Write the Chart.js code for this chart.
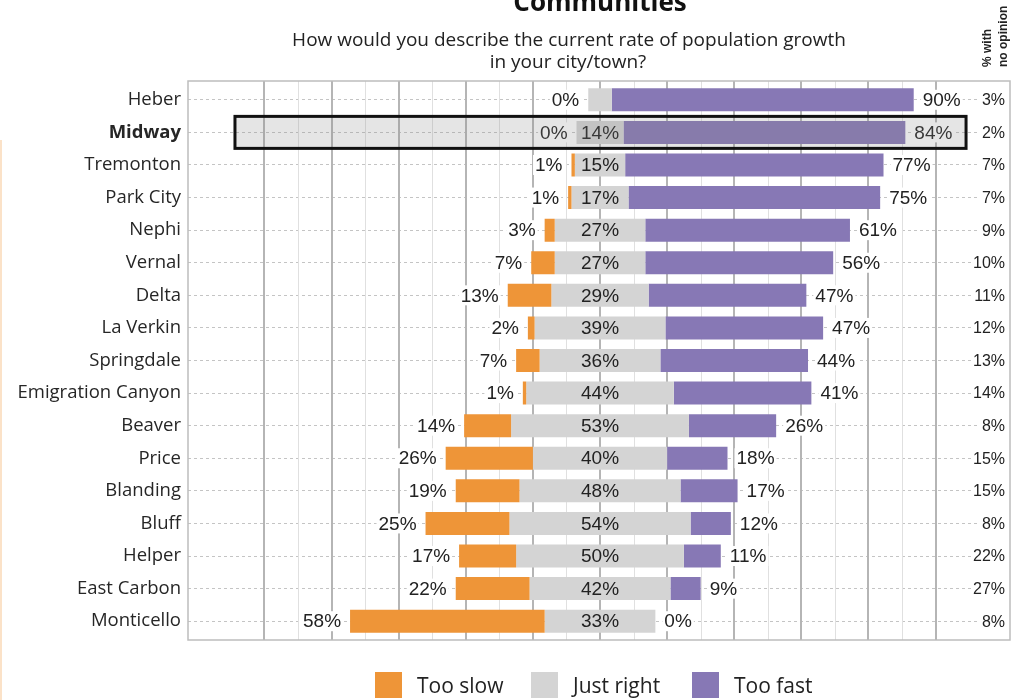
<!DOCTYPE html>
<html><head><meta charset="utf-8">
<script src="https://cdn.jsdelivr.net/npm/chart.js@4/dist/chart.umd.min.js"></script>
<style>html,body{margin:0;padding:0;background:#fff;overflow:hidden}#wrap{width:1015px;height:700px;position:relative}</style>
</head><body><div id="wrap"><canvas id="c" width="1015" height="700"></canvas></div>
<script>
const categories = ['Heber','Midway','Tremonton','Park City','Nephi','Vernal','Delta','La Verkin','Springdale','Emigration Canyon','Beaver','Price','Blanding','Bluff','Helper','East Carbon','Monticello'];
const tooSlow   = [0, 0, 1, 1, 3, 7, 13, 2, 7, 1, 14, 26, 19, 25, 17, 22, 58];
const justRight = [7, 14, 15, 17, 27, 27, 29, 39, 36, 44, 53, 40, 48, 54, 50, 42, 33];
const tooFast   = [90, 84, 77, 75, 61, 56, 47, 47, 44, 41, 26, 18, 17, 12, 11, 9, 0];
const noOpinion = [3, 2, 7, 7, 9, 10, 11, 12, 13, 14, 8, 15, 15, 8, 22, 27, 8];
const seriesLabels = ['Too slow', 'Just right', 'Too fast'];
const gridValues = [-100,-90,-80,-70,-60,-50,-40,-30,-20,-10,0,10,20,30,40,50,60,70,80,90,100];
const highlight = 'Midway';
const titleText = 'Communities';
const subtitleLines = ['How would you describe the current rate of population growth', 'in your city/town?'];
const sideHeader = ['% with', 'no opinion'];

const colors = ['#EE9538', '#D4D4D4', '#8778B5'];
const slowBars = categories.map((_, i) => [-justRight[i] / 2 - tooSlow[i], -justRight[i] / 2]);
const rightBars = categories.map((_, i) => [-justRight[i] / 2, justRight[i] / 2]);
const fastBars = categories.map((_, i) => [justRight[i] / 2, justRight[i] / 2 + tooFast[i]]);

const LABEL_FONT = '19px "Liberation Sans", Arial, sans-serif';
const EXT = 2.5; // frame extends slightly beyond the row band

function boxText(ctx, txt, x, y, align) {
  const w = ctx.measureText(txt).width;
  const x0 = align === 'right' ? x - w : x;
  ctx.fillStyle = '#fff';
  ctx.fillRect(x0 - 2, y - 10, w + 4, 20);
  ctx.fillStyle = '#222';
  ctx.textAlign = align;
  ctx.fillText(txt, x, y + 1);
}

const decor = {
  id: 'decor',
  beforeDatasetsDraw(chart) {
    const ctx = chart.ctx;
    const xs = chart.scales.x;
    const a = chart.chartArea;
    ctx.save();
    gridValues.forEach(v => {
      const x = Math.round(xs.getPixelForValue(v));
      const major = v % 20 === 0;
      ctx.strokeStyle = major ? '#b5b5b5' : '#e0e0e0';
      ctx.lineWidth = major ? 2 : 1;
      ctx.beginPath();
      ctx.moveTo(x + (major ? 0 : 0.5), a.top - EXT);
      ctx.lineTo(x + (major ? 0 : 0.5), a.bottom + EXT);
      ctx.stroke();
    });
    ctx.restore();
  },
  afterDatasetsDraw(chart) {
    const ctx = chart.ctx;
    const xs = chart.scales.x, ys = chart.scales.y;
    const vals = [tooSlow, justRight, tooFast];
    ctx.save();
    ctx.font = LABEL_FONT;
    ctx.textBaseline = 'middle';
    for (let d = 0; d < 3; d++) {
      const meta = chart.getDatasetMeta(d);
      meta.data.forEach((el, i) => {
        const v = vals[d][i];
        const txt = v + '%';
        const left = Math.min(el.x, el.base), right = Math.max(el.x, el.base);
        const y = el.y;
        if (d === 1) {
          if (v < 10) return;
          ctx.fillStyle = '#222';
          ctx.textAlign = 'center';
          ctx.fillText(txt, (left + right) / 2, y + 1);
        } else if (d === 0) {
          boxText(ctx, txt, left - 9, y, 'right');
        } else {
          boxText(ctx, txt, right + 9, y, 'left');
        }
      });
    }
    // no opinion column
    ctx.font = '16px "Liberation Sans", Arial, sans-serif';
    categories.forEach((c, i) => {
      const y = ys.getPixelForValue(i);
      boxText(ctx, noOpinion[i] + '%', chart.chartArea.right - 5, y, 'right');
    });
    // highlight box
    const hi = categories.indexOf(highlight);
    if (hi >= 0) {
      const y = ys.getPixelForValue(hi);
      const x1 = xs.getPixelForValue(-108.8), x2 = xs.getPixelForValue(109.1);
      ctx.fillStyle = 'rgba(135,135,135,0.22)';
      ctx.fillRect(x1, y - 16, x2 - x1, 32);
      ctx.strokeStyle = '#111';
      ctx.lineWidth = 3;
      ctx.strokeRect(x1, y - 16, x2 - x1, 32);
    }
    ctx.restore();
  },
  afterDraw(chart) {
    const ctx = chart.ctx;
    const a = chart.chartArea;
    ctx.save();
    // frame
    ctx.strokeStyle = '#bdbdbd';
    ctx.lineWidth = 1.5;
    ctx.strokeRect(a.left, a.top - EXT, a.right - a.left, a.bottom - a.top + 2 * EXT);
    // faint edge line
    ctx.fillStyle = 'rgba(240,150,58,0.28)';
    ctx.fillRect(0, 140, 2, 560);
    // title
    ctx.fillStyle = '#111';
    ctx.textAlign = 'center';
    ctx.textBaseline = 'alphabetic';
    ctx.font = 'bold 26px "Open Sans", sans-serif';
    ctx.fillText(titleText, 600, 11);
    ctx.fillStyle = '#222';
    ctx.font = '19px "Open Sans", sans-serif';
    ctx.fillText(subtitleLines[0], 569, 46);
    ctx.fillText(subtitleLines[1], 568, 68);
    // side header rotated
    ctx.save();
    ctx.font = 'bold 12px "Liberation Sans", Arial, sans-serif';
    ctx.fillStyle = '#222';
    ctx.textAlign = 'left';
    ctx.textBaseline = 'middle';
    ctx.translate(988, 67);
    ctx.rotate(-Math.PI / 2);
    ctx.fillText(sideHeader[0], 0, 0);
    ctx.fillText(sideHeader[1], 0, 16);
    ctx.restore();
    // legend
    ctx.font = '21px "Open Sans", sans-serif';
    ctx.textAlign = 'left';
    ctx.textBaseline = 'middle';
    const legendX = [375, 531, 692];
    chart.data.datasets.forEach((ds, i) => {
      ctx.fillStyle = ds.backgroundColor;
      ctx.fillRect(legendX[i], 672, 27, 26);
      ctx.fillStyle = '#222';
      ctx.fillText(ds.label, legendX[i] + 42, 687);
    });
    ctx.restore();
  }
};

new Chart(document.getElementById('c'), {
  type: 'bar',
  data: {
    labels: categories,
    datasets: [
      { label: seriesLabels[0], data: slowBars, backgroundColor: colors[0] },
      { label: seriesLabels[1], data: rightBars, backgroundColor: colors[1] },
      { label: seriesLabels[2], data: fastBars, backgroundColor: colors[2] }
    ]
  },
  options: {
    indexAxis: 'y',
    responsive: false,
    devicePixelRatio: 1,
    animation: false,
    datasets: { bar: { grouped: false, barThickness: 23, borderWidth: 0, borderSkipped: false, inflateAmount: 0 } },
    layout: { padding: { top: 81 + EXT, right: 5, bottom: 60 + EXT, left: 0 } },
    plugins: { legend: { display: false }, tooltip: { enabled: false }, title: { display: false } },
    scales: {
      x: {
        min: -122.8, max: 122.2,
        afterBuildTicks: s => { s.ticks = gridValues.map(v => ({ value: v })); },
        ticks: { display: false },
        grid: { display: false },
        border: { display: false },
        afterFit: s => { s.height = 0; }
      },
      y: {
        ticks: {
          color: '#262626',
          padding: 7,
          font: c => ({ family: '"Open Sans", sans-serif', size: 18.5, weight: categories[c.index] === highlight ? 'bold' : 'normal' })
        },
        grid: { offset: false, drawTicks: false, color: '#c4c4c4', lineWidth: 1 },
        border: { display: false, dash: [3, 3] },
        afterFit: s => { s.width = 188; }
      }
    }
  },
  plugins: [decor]
});
</script>
</body></html>
